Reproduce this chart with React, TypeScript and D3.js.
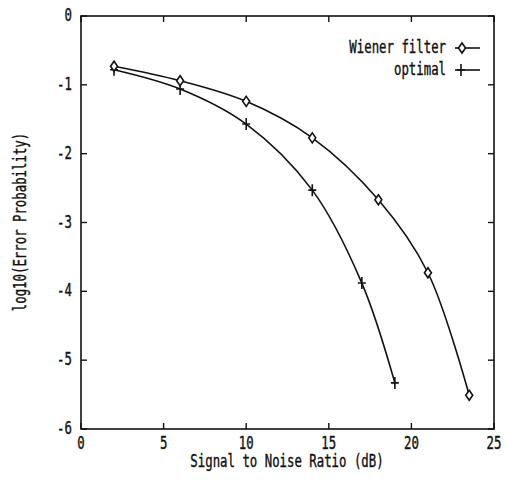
import React from "react";
import * as d3 from "d3";

// values
const wienerSnr = [2, 6, 10, 14, 18, 21, 23.5];
const wienerLogErr = [-0.73, -0.94, -1.24, -1.77, -2.67, -3.73, -5.51];
const optimalSnr = [2, 6, 10, 14, 17, 19];
const optimalLogErr = [-0.78, -1.06, -1.57, -2.53, -3.88, -5.33];
const xTicks = [0, 5, 10, 15, 20, 25];
const yTicks = [0, -1, -2, -3, -4, -5, -6];

const width = 506;
const height = 487;
const frame = { left: 81, right: 494, top: 16, bottom: 429 };
const font = "'DejaVu Sans Mono', monospace";

const Txt = ({ x, y, anchor = "middle", rotate = 0, children }) => (
	<text
		transform={`translate(${x},${y}) rotate(${rotate}) scale(0.95,1.3)`}
		textAnchor={anchor}
		fontFamily={font}
		fontSize={13}
		fill="#111"
		stroke="#111"
		strokeWidth={0.3}
	>
		{children}
	</text>
);

const Diamond = ({ cx, cy }) => (
	<path
		d={`M${cx},${cy - 5}L${cx + 3.5},${cy}L${cx},${cy + 5}L${cx - 3.5},${cy}Z`}
		fill="#fff"
		stroke="#111"
		strokeWidth={1.6}
	/>
);

const Plus = ({ cx, cy }) => (
	<path
		d={`M${cx},${cy - 6}V${cy + 6}M${cx - 4},${cy}H${cx + 4}`}
		stroke="#111"
		strokeWidth={1.6}
	/>
);

export default function App() {
	const x = d3.scaleLinear().domain([0, 25]).range([frame.left, frame.right]);
	const y = d3.scaleLinear().domain([-6, 0]).range([frame.bottom, frame.top]);

	const line = d3
		.line()
		.x((d) => x(d[0]))
		.y((d) => y(d[1]))
		.curve(d3.curveCatmullRom.alpha(0.5));

	const wiener = wienerSnr.map((s, i) => [s, wienerLogErr[i]]);
	const optimal = optimalSnr.map((s, i) => [s, optimalLogErr[i]]);

	const tick = 6;

	return (
		<svg
			width={width}
			height={height}
			style={{ position: "absolute", left: 0, top: 0, background: "#fff" }}
		>
			<rect
				x={frame.left}
				y={frame.top}
				width={frame.right - frame.left}
				height={frame.bottom - frame.top}
				fill="none"
				stroke="#111"
				strokeWidth={1.6}
			/>
			{xTicks.map((t) => (
				<g key={`x${t}`}>
					<line x1={x(t)} x2={x(t)} y1={frame.bottom} y2={frame.bottom - tick} stroke="#111" strokeWidth={1.4} />
					<line x1={x(t)} x2={x(t)} y1={frame.top} y2={frame.top + tick} stroke="#111" strokeWidth={1.4} />
					<Txt x={x(t)} y={449}>{t}</Txt>
				</g>
			))}
			{yTicks.map((t) => (
				<g key={`y${t}`}>
					<line x1={frame.left} x2={frame.left + tick} y1={y(t)} y2={y(t)} stroke="#111" strokeWidth={1.4} />
					<line x1={frame.right} x2={frame.right - tick} y1={y(t)} y2={y(t)} stroke="#111" strokeWidth={1.4} />
					<Txt x={72} y={y(t) + 5} anchor="end">{t}</Txt>
				</g>
			))}
			<Txt x={287} y={467}>Signal to Noise Ratio (dB)</Txt>
			<Txt x={26} y={222} rotate={-90}>log10(Error Probability)</Txt>

			<path d={line(wiener)} fill="none" stroke="#111" strokeWidth={1.6} />
			<path d={line(optimal)} fill="none" stroke="#111" strokeWidth={1.6} />
			{optimal.map((d, i) => (
				<Plus key={`o${i}`} cx={x(d[0])} cy={y(d[1])} />
			))}
			{wiener.map((d, i) => (
				<Diamond key={`w${i}`} cx={x(d[0])} cy={y(d[1])} />
			))}

			<Txt x={446} y={53} anchor="end">Wiener filter</Txt>
			<line x1={455} x2={480} y1={48} y2={48} stroke="#111" strokeWidth={1.6} />
			<Diamond cx={462} cy={48} />
			<Txt x={446} y={75} anchor="end">optimal</Txt>
			<line x1={455} x2={480} y1={70} y2={70} stroke="#111" strokeWidth={1.6} />
			<Plus cx={461} cy={70} />
		</svg>
	);
}
